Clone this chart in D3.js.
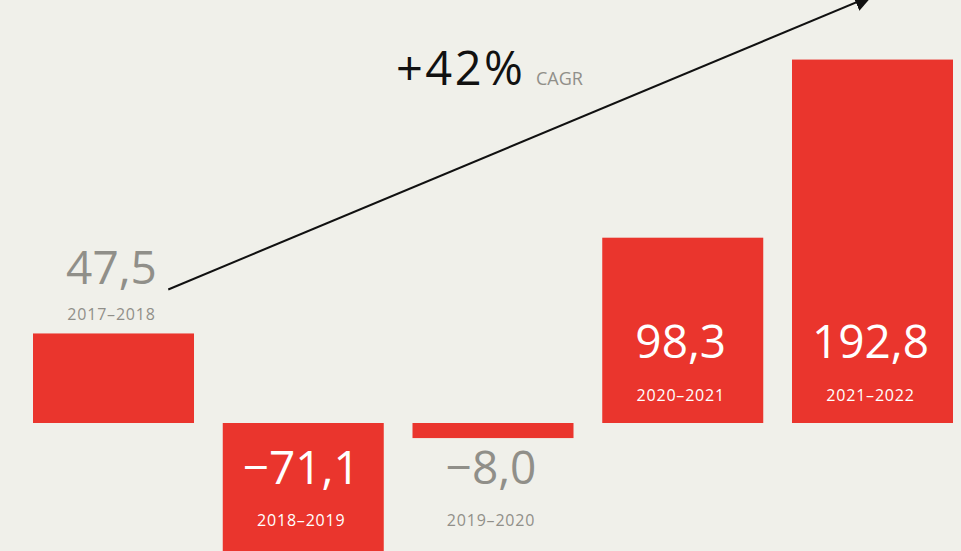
<!DOCTYPE html>
<html>
<head>
<meta charset="utf-8">
<script src="https://cdn.jsdelivr.net/npm/d3@7"></script>
<style>
  html, body { margin: 0; padding: 0; background: #f0f0ea; overflow: hidden; }
  svg { display: block; }
</style>
</head>
<body>
<div id="chart"></div>
<script>
// ── Data ─────────────────────────────────────
const periods = ["2017–2018", "2018–2019", "2019–2020", "2020–2021", "2021–2022"];
const values  = [47.5, -71.1, -8.0, 98.3, 192.8];
const cagrLabel = "+42%";
const cagrNote  = "CAGR";

(function () {
  const W = 961, H = 551;
  const RED  = "#ea352d";
  const GREY = "#908f89";
  const FONT = "'Open Sans', 'Noto Sans', sans-serif";

  const data = periods.map((p, i) => ({ period: p, value: values[i] }));

  const fmt = d3.formatLocale({ decimal: ",", thousands: ".", grouping: [3],
                                currency: ["", ""], minus: "\u2212" }).format(".1f");

  const svg = d3.select("#chart").append("svg")
    .attr("width", W).attr("height", H);

  svg.append("rect").attr("width", W).attr("height", H).attr("fill", "#f0f0ea");

  const x = d3.scaleBand()
    .domain(periods)
    .range([33, 953])
    .paddingInner(0.1515)
    .paddingOuter(0);

  const y = d3.scaleLinear()
    .domain([0, 200])
    .range([423, 46]);

  // Bars
  svg.selectAll(".bar").data(data).join("rect")
    .attr("class", "bar")
    .attr("x", d => x(d.period))
    .attr("y", d => y(Math.max(0, d.value)))
    .attr("width", x.bandwidth())
    .attr("height", d => Math.abs(y(d.value) - y(0)))
    .attr("fill", RED);

  // Labels: inside the bar when it is big enough, else outside
  const inside = d => Math.abs(d.value) > 40 && !(d.value > 0 && d.value < 60);
  const cx = d => x(d.period) + x.bandwidth() / 2 - 2;

  function valueY(d) {
    if (d.value >= 0) return inside(d) ? y(0) - 65 : y(d.value) - 49;
    return y(0) + 61;
  }
  function yearY(d) {
    if (d.value >= 0) return inside(d) ? y(0) - 22 : y(d.value) - 13;
    return y(0) + 103;
  }

  svg.selectAll(".val").data(data).join("text")
    .attr("class", "val")
    .attr("x", cx).attr("y", valueY)
    .attr("text-anchor", "middle")
    .attr("font-family", FONT).attr("font-size", "46px")
    .attr("fill", d => inside(d) ? "#ffffff" : GREY)
    .text(d => fmt(d.value));

  svg.selectAll(".yr").data(data).join("text")
    .attr("class", "yr")
    .attr("x", cx).attr("y", yearY)
    .attr("text-anchor", "middle")
    .attr("font-family", FONT).attr("font-size", "16px")
    .attr("letter-spacing", "0.8px")
    .attr("fill", d => inside(d) ? "#ffffff" : GREY)
    .text(d => d.period);

  // CAGR arrow
  svg.append("defs").append("marker")
    .attr("id", "arrow")
    .attr("viewBox", "0 0 10 10")
    .attr("refX", 10).attr("refY", 5)
    .attr("markerWidth", 9).attr("markerHeight", 9)
    .attr("markerUnits", "strokeWidth")
    .attr("orient", "auto")
    .append("path").attr("d", "M0,0 L10,5 L0,10 Z").attr("fill", "#111");

  const first = data[0], last = data[data.length - 1];
  svg.append("line")
    .attr("x1", x(first.period) + x.bandwidth() * 0.84)
    .attr("y1", y(first.value) - 44)
    .attr("x2", x(last.period) + x.bandwidth() * 0.5)
    .attr("y2", y(last.value) - 64)
    .attr("stroke", "#111").attr("stroke-width", 2)
    .attr("marker-end", "url(#arrow)");

  svg.append("text")
    .attr("x", 396).attr("y", 85)
    .attr("font-family", FONT)
    .attr("font-size", "47px").attr("fill", "#111")
    .attr("letter-spacing", "2.5px")
    .text(cagrLabel);
  svg.append("text")
    .attr("x", 536).attr("y", 85)
    .attr("font-family", FONT)
    .attr("font-size", "18px").attr("fill", GREY)
    .text(cagrNote);
})();
</script>
</body>
</html>
